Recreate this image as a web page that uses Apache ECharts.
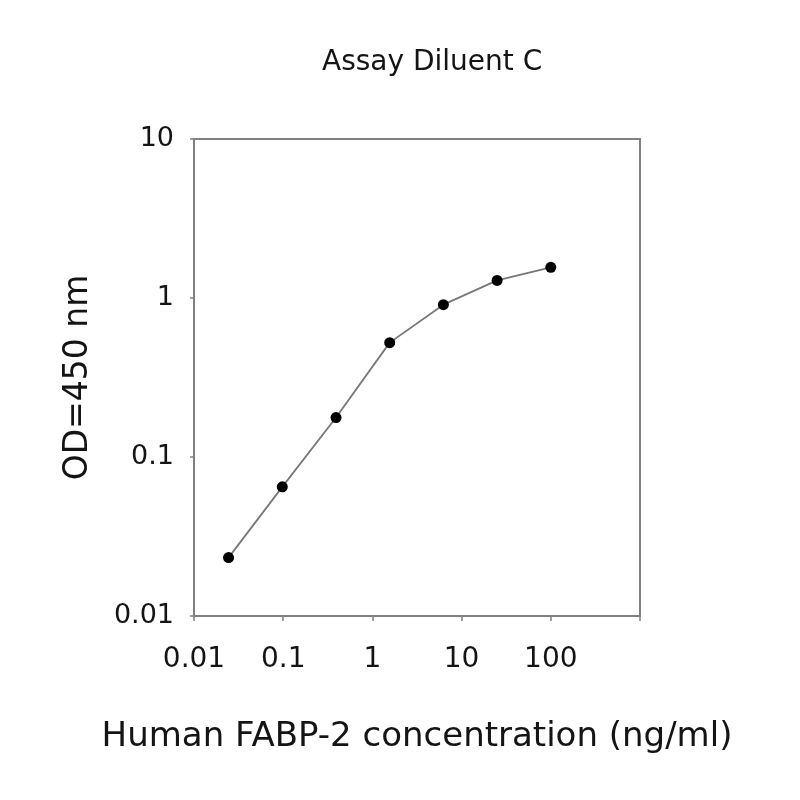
<!DOCTYPE html>
<html>
<head>
<meta charset="utf-8">
<script src="https://cdn.jsdelivr.net/npm/echarts@6/dist/echarts.min.js"></script>
<style>html,body{margin:0;padding:0;background:#fff;}#c{width:800px;height:800px;}</style>
</head>
<body>
<div id="c"></div>
<script>
const titleText = 'Assay Diluent C';
const xName = 'Human FABP-2 concentration (ng/ml)';
const yName = 'OD=450 nm';
const concentrations = [0.0244, 0.0977, 0.391, 1.5625, 6.25, 25, 100];
const odValues = [0.0233, 0.0649, 0.177, 0.524, 0.908, 1.29, 1.56];
const xTickLabels = ['0.01', '0.1', '1', '10', '100', ''];
const yTickLabels = ['0.01', '0.1', '1', '10'];

const font = 'DejaVu Sans';
const axisGray = '#808080';
const textColor = '#141414';
const chart = echarts.init(document.getElementById('c'));
chart.setOption({
  animation: false,
  backgroundColor: '#fff',
  title: {
    text: titleText, left: 317, top: 44,
    textStyle: { fontFamily: font, fontSize: 28, fontWeight: 'normal', color: textColor }
  },
  grid: { left: 194, right: 160, top: 139, bottom: 184, show: true, borderColor: axisGray, borderWidth: 2, backgroundColor: 'transparent' },
  xAxis: {
    type: 'log', logBase: 10, min: 0.01, max: 1000,
    name: xName, nameLocation: 'middle', nameGap: 104,
    nameTextStyle: { fontFamily: font, fontSize: 34, color: textColor },
    axisLine: { show: true, lineStyle: { color: axisGray, width: 2 } },
    axisTick: { show: true, length: 5, lineStyle: { color: axisGray, width: 1.5 } },
    minorTick: { show: false },
    splitLine: { show: false },
    axisLabel: {
      margin: 30, fontFamily: font, fontSize: 28, color: textColor,
      formatter: (v, i) => xTickLabels[i] !== undefined ? xTickLabels[i] : ''
    }
  },
  yAxis: {
    type: 'log', logBase: 10, min: 0.01, max: 10,
    name: yName, nameLocation: 'middle', nameGap: 99,
    nameTextStyle: { fontFamily: font, fontSize: 33, color: textColor },
    axisLine: { show: true, lineStyle: { color: axisGray, width: 2 } },
    axisTick: { show: true, length: 4, lineStyle: { color: axisGray, width: 1.5 } },
    minorTick: { show: false },
    splitLine: { show: false },
    axisLabel: {
      margin: 20, fontFamily: font, fontSize: 27, color: textColor,
      formatter: (v, i) => yTickLabels[i] !== undefined ? yTickLabels[i] : ''
    }
  },
  series: [{
    type: 'line',
    data: concentrations.map((c, i) => [c, odValues[i]]),
    symbol: 'circle', symbolSize: 11,
    itemStyle: { color: '#000' },
    lineStyle: { color: '#777', width: 1.8 }
  }]
});
</script>
</body>
</html>
